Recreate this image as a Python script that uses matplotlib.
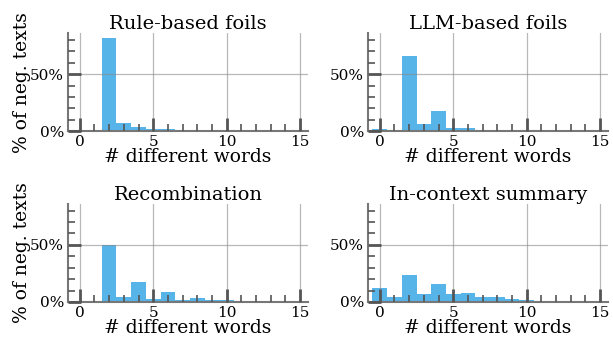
"""Histogram of how many words differ between foils and originals, per foil type."""
import matplotlib

matplotlib.use("Agg")
import matplotlib.pyplot as plt
import numpy as np
from matplotlib.ticker import MultipleLocator, PercentFormatter


WORD_COUNTS = list(range(16))
TITLES = ["Rule-based foils", "LLM-based foils", "Recombination", "In-context summary"]
# share of negative texts (%) per number of different words
RULE_BASED = [0, 0.2, 82.0, 7.3, 3.9, 2.1, 2.1, 0.3, 0.3, 0.3, 0.3, 0.2, 0.2, 0.2, 0.2, 0.2]
LLM_BASED = [2.0, 1.2, 65.5, 6.4, 17.6, 3.0, 3.0, 0.3, 0.3, 0.3, 0.3, 0.3, 0.2, 0.2, 0.2, 0.2]
RECOMBINATION = [0, 0.2, 49.5, 4.5, 17.5, 2.8, 8.7, 2.0, 3.8, 2.0, 2.0, 1.0, 1.0, 0.2, 0.2, 0.2]
IN_CONTEXT = [12.0, 4.5, 23.5, 7.0, 15.7, 7.0, 8.0, 4.6, 4.6, 2.7, 1.8, 1.0, 1.0, 0.2, 0.2, 0.2]

BAR_COLOR = "#56B4E9"
TICK_COLOR = "#555555"


def style_axis(axis) -> None:
    axis.set_axisbelow(False)
    axis.spines[["top", "right"]].set_visible(False)
    for side in ("left", "bottom"):
        axis.spines[side].set_color("#777777")
        axis.spines[side].set_linewidth(1.5)
    axis.set_xlim(-0.8, 15.55)
    axis.set_ylim(0, 0.86)
    axis.xaxis.set_major_locator(MultipleLocator(5))
    axis.xaxis.set_minor_locator(MultipleLocator(1))
    axis.yaxis.set_major_locator(MultipleLocator(0.5))
    axis.yaxis.set_minor_locator(MultipleLocator(0.1))
    axis.yaxis.set_major_formatter(PercentFormatter(1.0, decimals=0))
    axis.tick_params(which="major", direction="in", length=9.5, width=2, color=TICK_COLOR,
                     labelsize=11, pad=3)
    axis.tick_params(which="minor", direction="in", length=5, width=1.2, color=TICK_COLOR)
    axis.tick_params(axis="y", labelleft=True)
    axis.grid(which="major", color="#8a8a8a", linewidth=0.9, alpha=0.6)


def main() -> None:
    plt.rcParams["font.family"] = ["DejaVu Serif"]
    figure, axes = plt.subplots(2, 2, figsize=(6.13, 3.37), dpi=100, sharey=True)
    figure.subplots_adjust(left=0.111, right=0.992, top=0.902, bottom=0.104, wspace=0.25, hspace=0.74)
    series = [RULE_BASED, LLM_BASED, RECOMBINATION, IN_CONTEXT]
    for axis, title, values in zip(axes.ravel(), TITLES, series):
        axis.bar(WORD_COUNTS, np.asarray(values) / 100, width=1.0, color=BAR_COLOR, linewidth=0)
        style_axis(axis)
        axis.set_title(title, fontsize=14, pad=3)
        axis.set_xlabel("# different words", fontsize=13.5, labelpad=-1)
    for axis in axes[:, 0]:
        axis.set_ylabel("% of neg. texts", fontsize=13.5)
        axis.yaxis.set_label_coords(-0.155, 0.5)
    figure.savefig("out.png", dpi=100)
    plt.close(figure)


if __name__ == "__main__":
    main()
